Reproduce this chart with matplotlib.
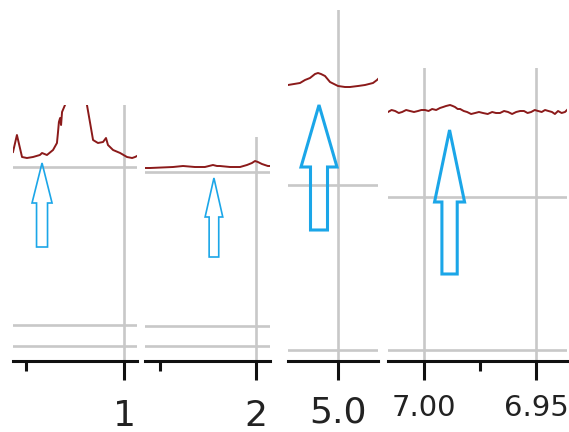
import matplotlib
matplotlib.use("Agg")
import matplotlib.pyplot as plt
from matplotlib.ticker import FixedLocator

# spectrum snippets (ppm, intensity in arbitrary units)
ppm1 = [1.566, 1.546, 1.520, 1.495, 1.464, 1.429, 1.418, 1.393, 1.362, 1.342,
        1.337, 1.332, 1.326, 1.321, 1.316, 1.301, 1.286, 1.245, 1.204, 1.189,
        1.173, 1.158, 1.133, 1.107, 1.092, 1.082, 1.056, 1.020, 0.985, 0.959,
        0.944, 0.934]
int1 = [209, 226, 204, 203, 204, 206, 208, 206, 211, 218,
        228, 239, 243, 236, 249, 256, 320, 450, 330, 256,
        238, 221, 218, 219, 223, 216, 211, 208, 204, 203,
        204, 205]

ppm2 = [2.578, 2.552, 2.432, 2.380, 2.318, 2.266, 2.224, 2.203, 2.188, 2.135,
        2.083, 2.047, 2.021, 2.005, 1.990, 1.969, 1.938, 1.927]
int2 = [193, 193, 194, 195, 194, 194, 196, 195, 195, 194,
        194, 196, 198, 200, 199, 197, 195, 195]

ppm3 = [5.100, 5.088, 5.076, 5.066, 5.056, 5.046, 5.040, 5.034, 5.026, 5.016,
        5.000, 4.986, 4.976, 4.960, 4.946, 4.930, 4.922, 4.920]
int3 = [276, 277, 278, 281, 283, 287, 288, 287, 285, 279,
        275, 274, 274, 275, 276, 278, 281, 282]

ppm4 = [7.0161, 7.0145, 7.0129, 7.0113, 7.0098, 7.0080, 7.0063, 7.0045, 7.0027,
        7.0012, 6.9996, 6.9980, 6.9964, 6.9946, 6.9929, 6.9915, 6.9902, 6.9884,
        6.9872, 6.9862, 6.9850, 6.9839, 6.9823, 6.9808, 6.9790, 6.9772, 6.9755,
        6.9737, 6.9716, 6.9696, 6.9679, 6.9661, 6.9643, 6.9625, 6.9607, 6.9589,
        6.9571, 6.9554, 6.9538, 6.9522, 6.9506, 6.9491, 6.9475, 6.9460, 6.9445,
        6.9429, 6.9416, 6.9402, 6.9386, 6.9371, 6.9362]
int4 = [249, 251, 250, 248, 249, 251, 250, 249, 250, 251, 251, 250, 252, 251,
        253, 254, 255, 256, 255, 254, 252, 252, 250, 249, 247, 248, 249, 248,
        247, 249, 248, 248, 250, 249, 247, 249, 250, 250, 248, 249, 251, 250,
        249, 251, 250, 249, 247, 250, 248, 249, 251]

# arrow marks: x position, base, tip
arrow_x = [1.418, 2.219, 5.038, 6.98862]
arrow_base = [114, 104, 131, 87]
arrow_tip = [198, 183, 256, 231]

red = "#8b1a1a"
blue = "#1ba6e8"
grid_c = "#c8c8c8"

fig = plt.figure(figsize=(5.69, 4.32), dpi=100)
W, H = 569.0, 432.0


def make_ax(l, r, t, b=361):
    return fig.add_axes([l / W, (H - b) / H, (r - l) / W, (b - t) / H])


panels = [
    dict(rect=(13, 137, 105), xlim=(1.566, 0.934), ylim=(0, 256), major=[1.0], labels=["1"],
         minor=[1.5], hgrid=[194, 36, 15], hw=0.102, w=0.056, hl=40, lw=1.2, fs=26, pad=13),
    dict(rect=(145, 270, 137), xlim=(2.578, 1.927), ylim=(0, 224), major=[2.0], labels=["2"],
         minor=[2.5], hgrid=[189, 35, 15], hw=0.092, w=0.05, hl=39, lw=1.2, fs=26, pad=13),
    dict(rect=(288, 378, 10), xlim=(5.1, 4.92), ylim=(0, 351), major=[5.0], labels=["5.0"],
         minor=[], hgrid=[176, 11], hw=0.072, w=0.034, hl=62, lw=2.2, fs=26, pad=11),
    dict(rect=(388, 567, 68), xlim=(7.0161, 6.9362), ylim=(0, 293), major=[7.00, 6.95],
         labels=["7.00", "6.95"], minor=[6.975], hgrid=[164, 11], hw=0.0134, w=0.00683,
         hl=72, lw=2.2, fs=21, pad=10),
]
xs = [ppm1, ppm2, ppm3, ppm4]
ys = [int1, int2, int3, int4]

for i, p in enumerate(panels):
    ax = make_ax(*p["rect"])
    ax.set_xlim(*p["xlim"])
    ax.set_ylim(*p["ylim"])
    ax.plot(xs[i], ys[i], color=red, lw=1.4, zorder=3)
    for g in p["hgrid"]:
        ax.axhline(g, color=grid_c, lw=1.9, zorder=1)
    for m in p["major"]:
        ax.axvline(m, color=grid_c, lw=1.9, zorder=1)
    ax.arrow(arrow_x[i], arrow_base[i], 0, arrow_tip[i] - arrow_base[i],
             width=p["w"], head_width=p["hw"], head_length=p["hl"],
             length_includes_head=True, fill=False, ec=blue, lw=p["lw"], zorder=4)
    ax.set_xticks(p["major"])
    ax.set_xticklabels(p["labels"])
    ax.xaxis.set_minor_locator(FixedLocator(p["minor"]))
    ax.set_yticks([])
    for s in ["top", "left", "right"]:
        ax.spines[s].set_visible(False)
    ax.spines["bottom"].set_linewidth(2.2)
    ax.spines["bottom"].set_color("#111111")
    ax.tick_params(axis="x", which="major", length=14, width=2.2, color="#111111",
                   labelsize=p["fs"], labelcolor="#222222", pad=p["pad"])
    ax.tick_params(axis="x", which="minor", length=7, width=2.2, color="#111111")
    ax.patch.set_alpha(0)

fig.savefig("out.png", dpi=100)
